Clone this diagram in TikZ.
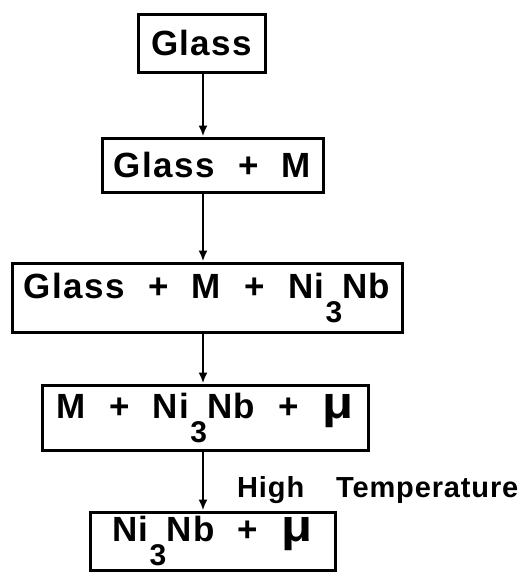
\documentclass[tikz,border=0pt]{standalone}
\usepackage{fontspec}
\setmainfont{Liberation Sans}
\newfontfamily\boxfont[LetterSpace=4,WordSpace=2.1]{Liberation Sans Bold}
\newfontfamily\lblfont[LetterSpace=3]{Liberation Sans Bold}
\usetikzlibrary{arrows.meta}

% dropped subscript and tall mu, as lettered
\newcommand{\sbs}[1]{\kern1pt\raisebox{-24pt}{\fontsize{30}{30}\selectfont #1}}
\newcommand{\muph}{\scalebox{1.45}[1.3]{μ}}

\begin{document}
\begin{tikzpicture}[
    x=1pt, y=-1pt,
    >={Latex[length=11pt,width=9pt]},
    phase/.style={
      draw, line width=3pt, inner sep=0pt,
      font=\boxfont\fontsize{35}{40}\selectfont},
    arr/.style={->, line width=2.4pt},
    lbl/.style={font=\lblfont\fontsize{29}{34}\selectfont, inner sep=0pt},
]

\useasboundingbox (0,0) rectangle (528,574);

% Axis of the arrows
\coordinate (axis) at (203,0);

% --- Phases ---
\node[phase, minimum width=127pt, minimum height=58pt]
  (glass) at (201.5,43) {Glass};
\node[phase, minimum width=221pt, minimum height=54pt]
  (glassm) at (212.5,165) {Glass + M};
\node[phase, minimum width=390pt, minimum height=69pt]
  (glassmni) at (207,297.5) {Glass + M + Ni\sbs{3}Nb};
\node[phase, minimum width=326pt, minimum height=65pt]
  (mnimu) at (205,417.5) {M + Ni\sbs{3}Nb + \muph};
\node[phase, minimum width=245pt, minimum height=58pt]
  (nimu) at (212.5,541) {Ni\sbs{3}Nb + \muph};

% --- Arrows ---
\draw[arr] (glass.south -| axis) -- (glassm.north -| axis);
\draw[arr] (glassm.south -| axis) -- (glassmni.north -| axis);
\draw[arr] (glassmni.south -| axis) -- (mnimu.north -| axis);
\draw[arr] (mnimu.south -| axis) -- (nimu.north -| axis);

\node[lbl, anchor=base west] (hight) at (237,497) {High\hspace{1.1em}Temperature};

\end{tikzpicture}
\end{document}
